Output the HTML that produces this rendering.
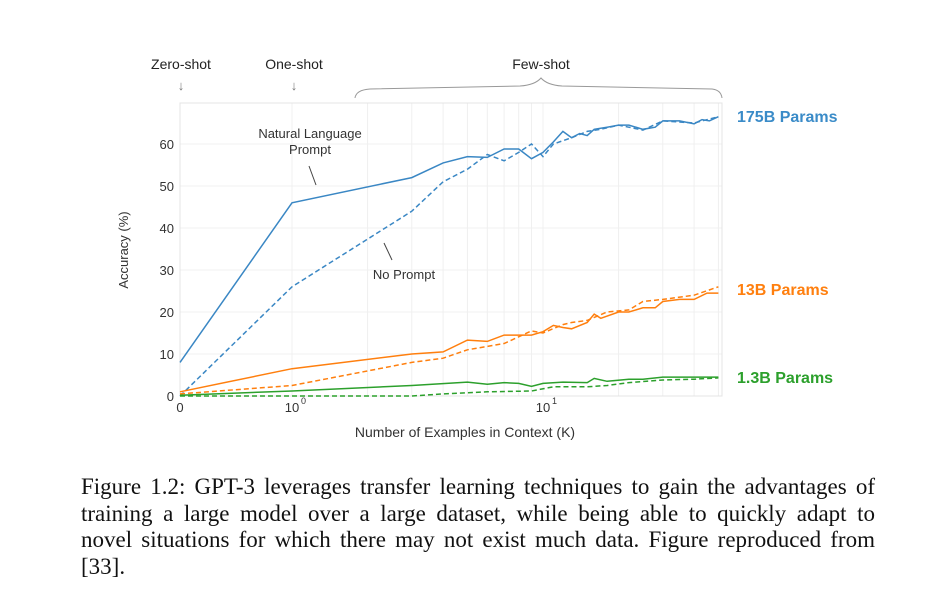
<!DOCTYPE html>
<html><head><meta charset="utf-8"><style>
body{margin:0;background:#fff;width:933px;height:601px;overflow:hidden;position:relative}
svg{position:absolute;left:0;top:0}
.cap{position:absolute;left:81px;top:474px;width:794px;font-family:"Liberation Serif",serif;font-size:23px;line-height:26.5px;color:#111}
.cap div{text-align:justify;text-align-last:justify;white-space:nowrap}
.cap div.last{text-align-last:left}
</style></head><body>
<svg width="933" height="470" font-family="Liberation Sans, sans-serif">
<g id="grid"></g>
<rect x="180" y="103" width="542" height="293" fill="none" stroke="#e4e4e4"/>
<g id="series"></g>
<g id="ticks" font-size="13" fill="#333"></g>
<text x="128" y="250" transform="rotate(-90 128 250)" text-anchor="middle" font-size="13" fill="#333">Accuracy (%)</text>
<text x="465" y="437" text-anchor="middle" font-size="14" fill="#333">Number of Examples in Context  (K)</text>
<text x="181" y="69" text-anchor="middle" font-size="14" fill="#222">Zero-shot</text>
<text x="181" y="90" text-anchor="middle" font-size="13" fill="#777">↓</text>
<text x="294" y="69" text-anchor="middle" font-size="14" fill="#222">One-shot</text>
<text x="294" y="90" text-anchor="middle" font-size="13" fill="#777">↓</text>
<text x="541" y="69" text-anchor="middle" font-size="14" fill="#222">Few-shot</text>
<path d="M355 98 Q356 90 370 89 L520 86 Q535 85 541 78 Q547 85 562 86 L712 89 Q721 90 722 98" fill="none" stroke="#999"/>
<text x="310" y="138" text-anchor="middle" font-size="13" fill="#333">Natural Language</text>
<text x="310" y="154" text-anchor="middle" font-size="13" fill="#333">Prompt</text>
<line x1="309" y1="166" x2="316" y2="185" stroke="#444"/>
<text x="404" y="279" text-anchor="middle" font-size="13" fill="#333">No Prompt</text>
<line x1="384" y1="243" x2="392" y2="260" stroke="#444"/>
<text x="737" y="122" font-size="16" font-weight="bold" fill="#3a8bc8">175B Params</text>
<text x="737" y="295" font-size="16" font-weight="bold" fill="#ff7f0e">13B Params</text>
<text x="737" y="383" font-size="16" font-weight="bold" fill="#2ca02c">1.3B Params</text>
</svg>
<div class="cap">
<div>Figure 1.2: GPT-3 leverages transfer learning techniques to gain the advantages of</div>
<div>training a large model over a large dataset, while being able to quickly adapt to</div>
<div>novel situations for which there may not exist much data. Figure reproduced from</div>
<div class="last">[33].</div>
</div>
<script>
const yTicks=[0,10,20,30,40,50,60];
const b175K=[0,1,3,4,5,6,7,8,9,10,11,12,13,14,15,16,18,20,22,25,28,30,35,40,43,46,50];
const b175NL=[8,46,52,55.5,57,56.8,58.8,58.8,56.5,58,60.5,63,61.5,62.5,62,63.5,64,64.5,64.5,63.5,64,65.5,65.5,64.8,65.8,65.5,66.5];
const b175NPK=[0,1,3,4,5,6,7,8,9,10,11,13,15,17,20,25,30,40,50];
const b175NP=[0,26,44,51,54,57.5,56,58,60,57,60,61.5,63,63.5,64.5,63.3,65.5,65,66.5];
const o13K=[0,1,3,4,5,6,7,9,10,11,12,13,15,16,17,20,22,25,28,30,35,40,45,50];
const o13NL=[1,6.5,10,10.5,13.3,13,14.5,14.5,15.3,16.8,16.3,16,17.5,19.5,18.5,20,20,21,21,22.5,23,23,24.5,24.5];
const o13NPK=[0,1,3,4,5,7,9,10,12,13,15,18,22,25,30,40,50];
const o13NP=[0.5,2.5,8,9,11,12.5,15.5,15,17,17.5,18,20,20.5,22.5,23,24,26];
const g1K=[0,1,3,5,6,7,8,9,10,12,15,16,18,22,25,30,40,50];
const g1NL=[0.2,1.2,2.5,3.3,2.8,3.2,3,2.3,3,3.3,3.2,4.2,3.5,4,4,4.5,4.5,4.5];
const g1NPK=[0,1,3,4,6,9,11,15,18,22,30,40,50];
const g1NP=[0,0,0,0.5,1,1.2,2.2,2.2,2.5,3.2,3.8,4,4.3];
const xs=k=>k<=0?180:292+251*Math.log10(k);
const ys=v=>396-4.2*v;
const NS='http://www.w3.org/2000/svg';
const grid=document.getElementById('grid'),ser=document.getElementById('series'),tk=document.getElementById('ticks');
function mk(p,tag,at){const e=document.createElementNS(NS,tag);for(const k in at)e.setAttribute(k,at[k]);p.appendChild(e);return e;}
yTicks.forEach(v=>{const l=mk(grid,'line',{x1:180,x2:722,y1:ys(v),y2:ys(v),stroke:'#f0f0f0'});


const t=mk(tk,'text',{x:174,y:ys(v)+5,'text-anchor':'end'});t.textContent=v;

});
[1,2,3,4,5,6,7,8,9,10,20,30,40,50].forEach(k=>{const l=mk(grid,'line',{x1:xs(k),x2:xs(k),y1:103,y2:396,stroke:'#f0f0f0'});

});
[[180,'0',''],[292,'10','0'],[543,'10','1']].forEach(([x,b,s])=>{const t=mk(tk,'text',{x:x,y:412,'text-anchor':'middle'});t.textContent=b;


if(s){const u=mk(tk,'text',{x:x+9,y:404,'font-size':9});u.textContent=s;}});
function line(K,V,col,dash,name){const d=K.map((k,i)=>(i?'L':'M')+xs(k).toFixed(1)+' '+ys(V[i]).toFixed(1)).join(' ');
const p=mk(ser,'path',{d:d,fill:'none',stroke:col,'stroke-width':1.5,'stroke-dasharray':dash});

}
line(b175NPK,b175NP,'#3a87c4','5 3','line-175b-no-prompt');
line(b175K,b175NL,'#3a87c4','','line-175b-nl-prompt');
line(o13NPK,o13NP,'#ff7f0e','5 3','line-13b-no-prompt');
line(o13K,o13NL,'#ff7f0e','','line-13b-nl-prompt');
line(g1NPK,g1NP,'#2ca02c','5 3','line-1-3b-no-prompt');
line(g1K,g1NL,'#2ca02c','','line-1-3b-nl-prompt');
</script>
</body></html>
